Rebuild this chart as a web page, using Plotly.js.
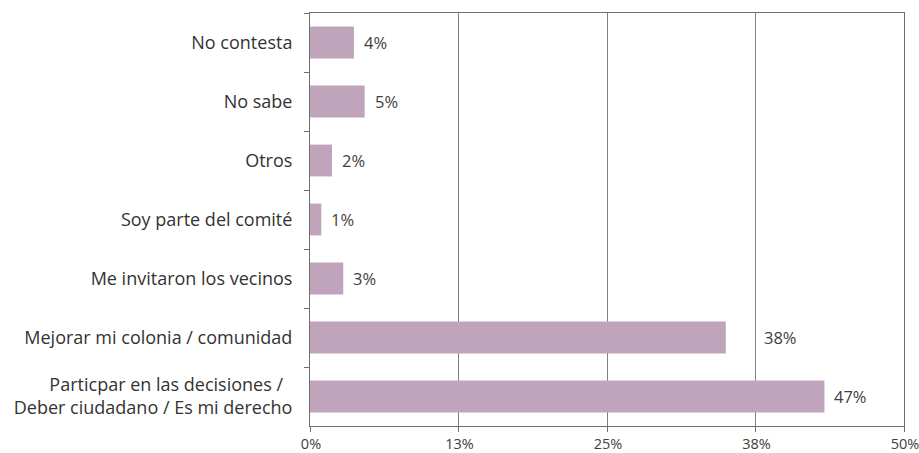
<!DOCTYPE html>
<html>
<head>
<meta charset="utf-8">
<script src="https://cdn.plot.ly/plotly-3.0.1.min.js"></script>
<style>html,body{margin:0;padding:0;background:#fff;}#chart{width:919px;height:453px;}</style>
</head>
<body>
<div id="chart"></div>
<script>
// Categories, top to bottom
const categories = [
  "No contesta",
  "No sabe",
  "Otros",
  "Soy parte del comité",
  "Me invitaron los vecinos",
  "Mejorar mi colonia / comunidad",
  "Particpar en las decisiones /\u00a0\u00a0<br>Deber ciudadano / Es mi derecho"
];
// Bar lengths (percent)
const values = [3.7, 4.6, 1.85, 0.95, 2.8, 35.0, 43.3];
// Value labels printed beside the bars
const valueLabels = ["4%", "5%", "2%", "1%", "3%", "38%", "47%"];
// X axis ticks
const xTickVals = [0, 12.5, 25, 37.5, 50];
const xTickText = ["0%", "13%", "25%", "38%", "50%"];

const labelShift = [8, 8, 8, 8, 8, 36, 8];

const trace = {
  type: "bar",
  orientation: "h",
  y: categories,
  x: values,
  marker: { color: "#bfa4bb", line: { width: 0 } },
  hoverinfo: "none"
};

const annotations = categories.map((c, i) => ({
  x: values[i], y: c, xref: "x", yref: "y",
  text: valueLabels[i], showarrow: false,
  xanchor: "left", xshift: labelShift[i], yshift: 0,
  font: { family: "Open Sans, sans-serif", size: 16.5, color: "#404040" }
}));

const layout = {
  width: 919, height: 453,
  margin: { l: 310, r: 15, t: 13, b: 27, pad: 0 },
  paper_bgcolor: "#ffffff", plot_bgcolor: "#ffffff",
  showlegend: false,
  bargap: 0.46,
  font: { family: "Open Sans, sans-serif", color: "#404040" },
  xaxis: {
    range: [0, 50],
    tickmode: "array", tickvals: xTickVals, ticktext: xTickText,
    showgrid: true, gridcolor: "#808080", gridwidth: 1,
    zeroline: false,
    showline: true, linecolor: "#6f6f6f", linewidth: 1, mirror: true,
    ticks: "outside", ticklen: 5, tickcolor: "#6f6f6f", tickwidth: 1,
    ticklabelstandoff: 0,
    ticklabelshift: 1,
    ticklabeloverflow: "allow",
    tickfont: { family: "Open Sans, sans-serif", size: 14.5, color: "#404040" },
    fixedrange: true
  },
  yaxis: {
    type: "category",
    autorange: "reversed",
    showgrid: false, zeroline: false,
    showline: true, linecolor: "#6f6f6f", linewidth: 1, mirror: true,
    ticks: "outside", ticklen: 5, tickcolor: "#6f6f6f", tickwidth: 1,
    tickson: "boundaries",
    ticklabelstandoff: 13,
    tickfont: { family: "Open Sans, sans-serif", size: 18, color: "#333333" },
    fixedrange: true
  },
  annotations: annotations
};

Plotly.newPlot("chart", [trace], layout, { displayModeBar: false, staticPlot: true });
</script>
</body>
</html>
